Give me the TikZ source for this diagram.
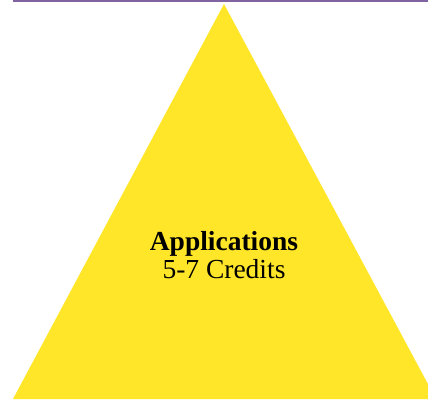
\documentclass[tikz,border=0pt]{standalone}
\usepackage{fontspec}
\setmainfont{Liberation Serif}
\usetikzlibrary{positioning}
\definecolor{tieryellow}{RGB}{255,230,41}
\definecolor{rulepurple}{RGB}{128,100,162}

\begin{document}
\begin{tikzpicture}[
  x=1pt, y=-1pt,
  tier/.style={fill=tieryellow},
  tierlabel/.style={font=\fontsize{27.5}{28}\selectfont, align=center, inner sep=0pt}
]
  \useasboundingbox (0,0) rectangle (428,399);
  \clip (0,0) rectangle (428,399);
  % top rule
  \draw[rulepurple, line width=2.5pt] (13,1) -- (428,1);
  % pyramid
  \fill[tier] (224,4) -- (13,399) -- (436,399) -- cycle;
  \node[tierlabel] (apps) at (224,255) {\textbf{Applications}\\5-7 Credits};
\end{tikzpicture}
\end{document}
